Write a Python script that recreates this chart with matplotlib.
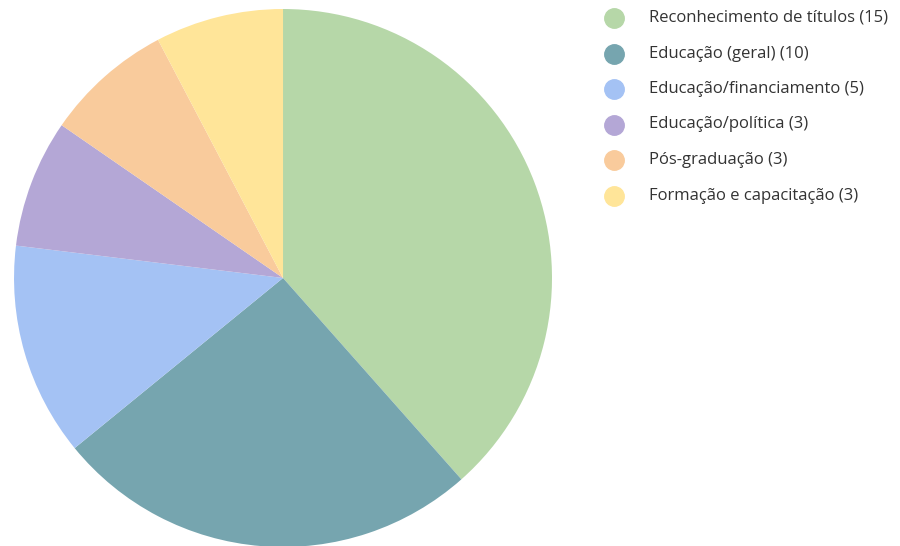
import matplotlib
matplotlib.use("Agg")
import matplotlib.pyplot as plt
from matplotlib.lines import Line2D

# categorias e contagens
categorias = [
    "Reconhecimento de títulos",
    "Educação (geral)",
    "Educação/financiamento",
    "Educação/política",
    "Pós-graduação",
    "Formação e capacitação",
]
contagens = [15, 10, 5, 3, 3, 3]
cores = ["#b6d7a8", "#76a5af", "#a4c2f4", "#b4a7d6", "#f9cb9c", "#ffe599"]

plt.rcParams["font.family"] = ["Open Sans", "DejaVu Sans"]

fig = plt.figure(figsize=(9, 5.46), dpi=100)
ax = fig.add_axes([0.01556, -0.0018, 0.5978, 0.9853])
ax.pie(contagens, colors=cores, startangle=90, counterclock=False,
       wedgeprops=dict(linewidth=0))
ax.set_xlim(-1, 1)
ax.set_ylim(-1, 1)
ax.set_aspect("equal")
ax.axis("off")

# legenda desenhada à mão, uma linha por categoria
y0, passo = 18, 35.5
for i, (nome, n, c) in enumerate(zip(categorias, contagens, cores)):
    y = 1 - (y0 + i * passo) / 546
    fig.add_artist(Line2D([614 / 900], [y], transform=fig.transFigure,
                          marker="o", ms=14, color=c, ls=""))
    fig.text(649 / 900, y, f"{nome} ({n})", va="center", ha="left",
             fontsize=12, color="#333333")

fig.savefig("out.png", dpi=100)
